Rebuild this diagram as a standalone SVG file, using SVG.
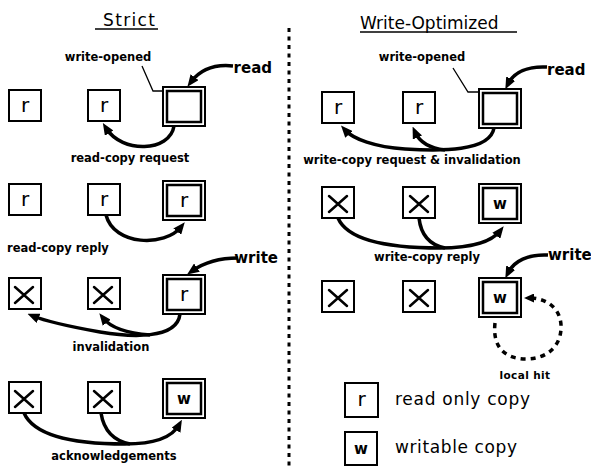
<svg xmlns="http://www.w3.org/2000/svg" width="591" height="469" viewBox="0 0 591 469">
<defs>
<style>
.bg{fill:#fff}
.box{fill:#fff;stroke:#000;stroke-width:2}
.dbi{fill:none;stroke:#000;stroke-width:2.5}
.lbl{font-family:"DejaVu Sans",sans-serif;font-weight:bold;font-size:11.5px;fill:#000}
.big{font-family:"DejaVu Sans",sans-serif;font-weight:bold;font-size:15px;fill:#000}
.ttl{font-family:"DejaVu Sans",sans-serif;font-size:17px;fill:#000}
.leg{font-family:"DejaVu Sans",sans-serif;font-size:17px;fill:#000}
.rg{font-family:"DejaVu Sans",sans-serif;font-size:20px;fill:#000;text-anchor:middle}
.wg{font-family:"DejaVu Sans",sans-serif;font-weight:bold;font-size:15px;fill:#000;text-anchor:middle}
.x{stroke:#000;stroke-width:2.5;fill:none;stroke-linecap:round}
.arr{fill:none;stroke:#000;stroke-width:3.5;marker-end:url(#ah)}
.thin{fill:none;stroke:#000;stroke-width:1.3}
.ul{stroke:#000;stroke-width:1.6}
.sep{stroke:#000;stroke-width:3;stroke-dasharray:4 4.5}
.loop{fill:none;stroke:#000;stroke-width:3.5;stroke-dasharray:5 5;marker-end:url(#ah2)}
</style>
<marker id="ah" markerUnits="userSpaceOnUse" markerWidth="12" markerHeight="10" viewBox="0 0 12 10" refX="6" refY="5" orient="auto">
<path d="M0,0 L12,5 L0,10 z" fill="#000" stroke="none"/>
</marker>
<marker id="ah2" markerUnits="userSpaceOnUse" markerWidth="10" markerHeight="9" viewBox="0 0 10 9" refX="4" refY="4.5" orient="auto">
<path d="M0,0 L10,4.5 L0,9 z" fill="#000" stroke="none"/>
</marker>
</defs>
<rect class="bg" x="0" y="0" width="591" height="469"/>

<g id="titles">
<text class="ttl" x="103" y="26" textLength="52">Strict</text>
<line class="ul" x1="95" y1="29" x2="158" y2="29"/>
<text class="ttl" x="360" y="29">Write-Optimized</text>
<line class="ul" x1="360" y1="32" x2="517" y2="32"/>
</g>

<g id="separator">
<line class="sep" x1="289" y1="28" x2="289" y2="469"/>
</g>

<!-- Strict row 1 -->
<g id="s1a"><rect class="box" x="9" y="90" width="32" height="31"/><text class="rg" x="25" y="112">r</text></g>
<g id="s1b"><rect class="box" x="88" y="90" width="32" height="31"/><text class="rg" x="104" y="112">r</text></g>
<g id="s1c"><rect class="box" x="163" y="87" width="42" height="39"/><rect class="dbi" x="167" y="91" width="34" height="31"/></g>
<g id="s1-open"><polyline class="thin" points="142,66 153,91 163,91"/><text class="lbl" x="108" y="61" text-anchor="middle">write-opened</text></g>
<g id="s1-read"><text class="big" x="272" y="73" text-anchor="end">read</text></g>

<!-- Strict row 2 -->
<g id="s2a"><rect class="box" x="9" y="184" width="32" height="31"/><text class="rg" x="25" y="206">r</text></g>
<g id="s2b"><rect class="box" x="88" y="184" width="32" height="31"/><text class="rg" x="104" y="206">r</text></g>
<g id="s2c"><rect class="box" x="163" y="181" width="42" height="39"/><rect class="dbi" x="167" y="185" width="34" height="31"/><text class="rg" x="184" y="207">r</text></g>

<!-- Strict row 3 -->
<g id="s3a"><rect class="box" x="9" y="278" width="32" height="31"/><path class="x" d="M15,287 L33,303 M33,287 L15,303"/></g>
<g id="s3b"><rect class="box" x="88" y="278" width="32" height="31"/><path class="x" d="M94,287 L112,303 M112,287 L94,303"/></g>
<g id="s3c"><rect class="box" x="163" y="275" width="42" height="39"/><rect class="dbi" x="167" y="279" width="34" height="31"/><text class="rg" x="184" y="301">r</text></g>
<g id="s3-write"><text class="big" x="278" y="263" text-anchor="end">write</text></g>

<!-- Strict row 4 -->
<g id="s4a"><rect class="box" x="9" y="382" width="32" height="31"/><path class="x" d="M15,391 L33,407 M33,391 L15,407"/></g>
<g id="s4b"><rect class="box" x="88" y="382" width="32" height="31"/><path class="x" d="M94,391 L112,407 M112,391 L94,407"/></g>
<g id="s4c"><rect class="box" x="163" y="379" width="42" height="39"/><rect class="dbi" x="167" y="383" width="34" height="31"/><text class="wg" x="184" y="404">w</text></g>

<!-- Write-Optimized row 1 -->
<g id="w1a"><rect class="box" x="322" y="92" width="32" height="31"/><text class="rg" x="338" y="114">r</text></g>
<g id="w1b"><rect class="box" x="403" y="92" width="32" height="31"/><text class="rg" x="419" y="114">r</text></g>
<g id="w1c"><rect class="box" x="479" y="89" width="42" height="39"/><rect class="dbi" x="483" y="93" width="34" height="31"/></g>
<g id="w1-open"><polyline class="thin" points="453,68 468,92 479,92"/><text class="lbl" x="422" y="61" text-anchor="middle">write-opened</text></g>
<g id="w1-read"><text class="big" x="547" y="75">read</text></g>

<!-- Write-Optimized row 2 -->
<g id="w2a"><rect class="box" x="322" y="187" width="32" height="31"/><path class="x" d="M329,196 L347,212 M347,196 L329,212"/></g>
<g id="w2b"><rect class="box" x="403" y="187" width="32" height="31"/><path class="x" d="M410,196 L428,212 M428,196 L410,212"/></g>
<g id="w2c"><rect class="box" x="479" y="184" width="42" height="39"/><rect class="dbi" x="483" y="188" width="34" height="31"/><text class="wg" x="500" y="209">w</text></g>

<!-- Write-Optimized row 3 -->
<g id="w3a"><rect class="box" x="322" y="281" width="32" height="31"/><path class="x" d="M329,290 L347,306 M347,290 L329,306"/></g>
<g id="w3b"><rect class="box" x="403" y="281" width="32" height="31"/><path class="x" d="M410,290 L428,306 M428,290 L410,306"/></g>
<g id="w3c"><rect class="box" x="479" y="278" width="42" height="39"/><rect class="dbi" x="483" y="282" width="34" height="31"/><text class="wg" x="500" y="303">w</text></g>
<g id="w3-write"><text class="big" x="548" y="260">write</text></g>

<!-- Legend -->
<g id="legend-r"><rect class="box" x="345" y="383" width="33" height="34"/><text class="rg" x="361.5" y="406">r</text><text class="leg" x="395" y="405" textLength="135">read only copy</text></g>
<g id="legend-w"><rect class="box" x="345" y="432" width="32" height="33"/><text class="wg" x="361" y="454">w</text><text class="leg" x="395" y="453" textLength="122">writable copy</text></g>

<g id="connectors">
<path class="arr" d="M233,66 C214,64 200,70 191,82"/>
<path class="arr" d="M547,67 C528,66 514,72 508,84"/>
<path class="arr" d="M238,258 C218,258 202,264 192,271"/>
<path class="arr" d="M548,255 C528,254 514,261 508,273"/>
<path class="arr" d="M174,126 C170,152 122,154 106,128"/>
<path class="arr" d="M106,215 C114,246 165,247 181,227"/>
<path class="arr" d="M180,314 C177,340 130,337 100,332 C72,327 45,321 33,316"/>
<path class="arr" d="M150,335 C125,333 110,327 103,318"/>
<path class="arr" d="M24,413 C36,440 90,444 125,444 C160,444 174,434 179,425"/>
<path class="arr" d="M101,413 C104,432 115,441 130,444" style="marker-end:none"/>
<path class="arr" d="M494,128 C490,152 440,151 405,149 C375,147 353,139 345,130"/>
<path class="arr" d="M445,150 C428,148 419,141 415,132"/>
<path class="arr" d="M338,218 C350,246 410,248 440,248 C475,248 493,240 500,231"/>
<path class="arr" d="M419,218 C421,236 430,245 445,248" style="marker-end:none"/>
<path class="loop" d="M495,323 C492,350 508,359 526,359 C548,359 562,345 561,325 C560,307 545,298 530,298"/>
</g>

<g id="labels">
<text class="lbl" x="130" y="162" text-anchor="middle">read-copy request</text>
<text class="lbl" x="7" y="252">read-copy reply</text>
<text class="lbl" x="111" y="351" text-anchor="middle">invalidation</text>
<text class="lbl" x="114" y="460" text-anchor="middle">acknowledgements</text>
<text class="lbl" x="412" y="164" text-anchor="middle">write-copy request &amp; invalidation</text>
<text class="lbl" x="427" y="261" text-anchor="middle">write-copy reply</text>
<text class="lbl" x="525" y="379" text-anchor="middle" style="font-size:10.5px;letter-spacing:0.4px">local hit</text>
</g>
</svg>
